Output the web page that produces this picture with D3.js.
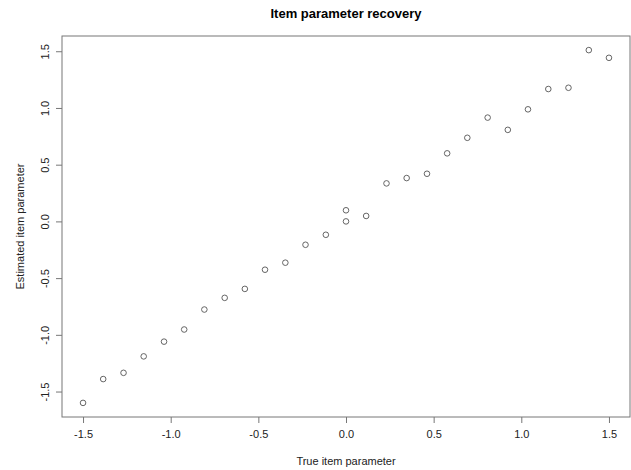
<!DOCTYPE html>
<html>
<head>
<meta charset="utf-8">
<script src="https://cdn.jsdelivr.net/npm/d3@7"></script>
<style>
  body { margin: 0; background: white; }
  svg { font-family: "Liberation Sans", Arial, Helvetica, sans-serif; }
  .axis text { font-size: 11px; fill: #222; }
  .axis line { stroke: #777; }
</style>
</head>
<body>
<div id="chart"></div>
<script>

// data
const trueParams = [
  -1.5, -1.385, -1.269, -1.154, -1.038, -0.923, -0.808, -0.692, -0.577,
  -0.462, -0.346, -0.231, -0.115, 0, 0, 0.115, 0.231, 0.346, 0.462,
  0.577, 0.692, 0.808, 0.923, 1.038, 1.154, 1.269, 1.385, 1.5
]
const estParams = [
  -1.6, -1.39, -1.335, -1.19, -1.06, -0.953, -0.777, -0.674, -0.595,
  -0.426, -0.364, -0.206, -0.118, 0.098, 0.0, 0.048, 0.335, 0.382, 0.42,
  0.6, 0.737, 0.915, 0.807, 0.988, 1.167, 1.178, 1.51, 1.442
]
const xTicks = [-1.5, -1.0, -0.5, 0.0, 0.5, 1.0, 1.5]
const yTicks = [-1.5, -1.0, -0.5, 0.0, 0.5, 1.0, 1.5]

const dataset = trueParams.map((t, i) => ({ t: t, e: estParams[i] }))
const xAccessor = d => d.t
const yAccessor = d => d.e

// plain hyphen minus like R, not d3's unicode minus
const tickFormat = d => d.toFixed(1)

// dimensions
let dimensions = {
  width: 631,
  height: 470,
  margin: { top: 36, right: 1, bottom: 53, left: 62 },
}
dimensions.boundedWidth = dimensions.width - dimensions.margin.left - dimensions.margin.right
dimensions.boundedHeight = dimensions.height - dimensions.margin.top - dimensions.margin.bottom

const wrapper = d3.select("#chart")
  .append("svg")
    .attr("width", dimensions.width)
    .attr("height", dimensions.height)

const bounds = wrapper.append("g")
  .attr("transform", `translate(${dimensions.margin.left},${dimensions.margin.top})`)

// scales, with R's 4% padding round the data range
const pad = ext => {
  const r = ext[1] - ext[0]
  return [ext[0] - 0.04 * r, ext[1] + 0.04 * r]
}
const xScale = d3.scaleLinear()
  .domain(pad(d3.extent(dataset, xAccessor)))
  .range([0, dimensions.boundedWidth])
const yScale = d3.scaleLinear()
  .domain(pad(d3.extent(dataset, yAccessor)))
  .range([dimensions.boundedHeight, 0])

// axes
const xAxis = bounds.append("g")
  .attr("class", "axis")
  .attr("transform", `translate(0,${dimensions.boundedHeight})`)
  .call(d3.axisBottom(xScale).tickValues(xTicks).tickFormat(tickFormat).tickSize(6).tickPadding(7))
xAxis.select(".domain").remove()

const yAxis = bounds.append("g")
  .attr("class", "axis")
  .call(d3.axisLeft(yScale).tickValues(yTicks).tickFormat(tickFormat).tickSize(6))
yAxis.select(".domain").remove()
// rotated labels, sitting left of their ticks
yAxis.selectAll("text")
  .attr("x", 0)
  .attr("y", -13)
  .attr("dy", 0)
  .attr("transform", "rotate(-90)")
  .attr("text-anchor", "middle")

// box
bounds.append("rect")
  .attr("x", 0)
  .attr("y", 0)
  .attr("width", dimensions.boundedWidth)
  .attr("height", dimensions.boundedHeight)
  .attr("fill", "none")
  .attr("stroke", "#777")
  .attr("stroke-width", 1)

// points
bounds.selectAll("circle")
  .data(dataset)
  .join("circle")
    .attr("cx", d => xScale(xAccessor(d)))
    .attr("cy", d => yScale(yAccessor(d)))
    .attr("r", 2.8)
    .attr("fill", "none")
    .attr("stroke", "#555")
    .attr("stroke-width", 0.9)

// titles
wrapper.append("text")
  .attr("x", dimensions.margin.left + dimensions.boundedWidth / 2)
  .attr("y", 18)
  .attr("text-anchor", "middle")
  .style("font-size", "13px")
  .style("font-weight", "bold")
  .text("Item parameter recovery")

wrapper.append("text")
  .attr("x", dimensions.margin.left + dimensions.boundedWidth / 2)
  .attr("y", 465)
  .attr("text-anchor", "middle")
  .style("font-size", "11px")
  .attr("fill", "#222")
  .text("True item parameter")

wrapper.append("text")
  .attr("transform", `translate(24,${dimensions.margin.top + dimensions.boundedHeight / 2}) rotate(-90)`)
  .attr("text-anchor", "middle")
  .style("font-size", "11px")
  .attr("fill", "#222")
  .text("Estimated item parameter")

</script>
</body>
</html>
